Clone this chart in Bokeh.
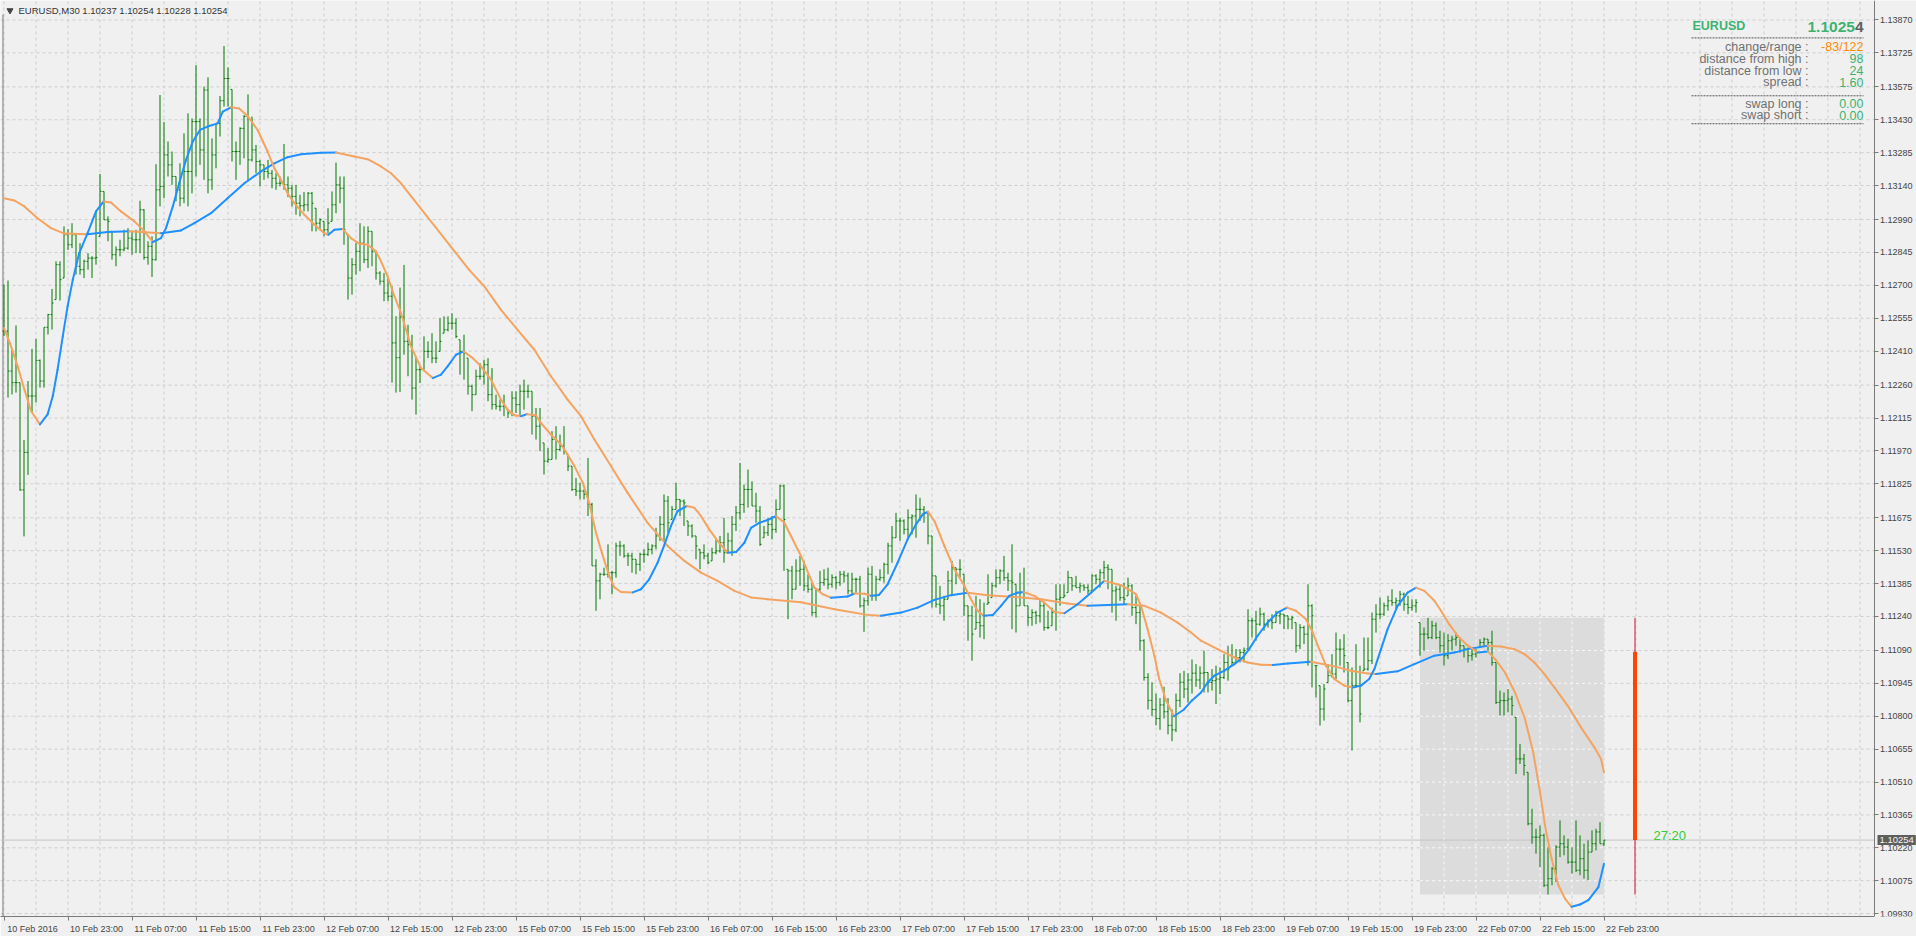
import numpy as np
from bokeh.plotting import figure
from bokeh.models import Range1d, FixedTicker, PrintfTickFormatter, Label, ColumnDataSource
from bokeh.core.properties import value
from bokeh.embed import file_html
from bokeh.resources import INLINE

# ---------------- data (prices in points, 1 point = 0.00001) ----------------
SYMBOL = "EURUSD"
TIMEFRAME = "M30"
LAST_O, LAST_H, LAST_L, LAST_C = 1.10237, 1.10254, 1.10228, 1.10254
PRICE = 1.10254
DAY_OPEN, DAY_HIGH, DAY_LOW = 1.11084, 1.11234, 1.10014
CHANGE_RANGE = "-83/122"
DIST_HIGH = "98"
DIST_LOW = "24"
SPREAD = "1.60"
SWAP_LONG = "0.00"
SWAP_SHORT = "0.00"
TIMER = "27:20"
DAY_START_BAR = 354

HIGH = [
 112703,112721,112417,112523,112271,112018,112278,112420,112464,112373,
 112515,112574,112684,112806,112806,112960,112948,112974,112923,112886,
 112813,112842,112828,113026,113191,113114,113004,112938,112872,112901,
 112945,112952,112938,112945,113073,113036,112894,112916,113234,113539,
 113419,113334,113290,113180,113238,113370,113458,113436,113671,113436,
 113576,113617,113348,113414,113535,113755,113661,113564,113334,113397,
 113451,113542,113444,113319,113253,113231,113253,113209,113194,113180,
 113323,113180,113143,113143,113099,113111,113111,113111,113040,112996,
 112982,113040,113114,113241,113180,113180,112923,112820,112886,112974,
 112960,112960,112938,112850,112762,112754,112732,112696,112564,112690,
 112790,112526,112482,112387,112343,112475,112453,112489,112453,112555,
 112563,112563,112577,112555,112460,112482,112379,112262,112328,112357,
 112372,112379,112335,112218,112196,112218,112152,112233,112233,112262,
 112284,112262,112233,112159,112159,112005,111983,112057,112079,112042,
 112079,111954,111903,111851,111829,111800,111939,111741,111492,111433,
 111455,111558,111441,111565,111573,111558,111521,111521,111492,111521,
 111536,111565,111558,111631,111683,111778,111771,111727,111829,111756,
 111756,111661,111646,111595,111536,111558,111521,111543,111580,111595,
 111675,111609,111683,111727,111917,111822,111888,111836,111785,111727,
 111639,111675,111683,111756,111822,111822,111448,111463,111492,111507,
 111485,111426,111389,111360,111441,111448,111455,111426,111419,111441,
 111441,111433,111433,111411,111419,111323,111455,111463,111419,111448,
 111477,111565,111639,111697,111675,111668,111712,111690,111778,111763,
 111727,111705,111595,111419,111375,111331,111441,111485,111455,111492,
 111426,111287,111287,111331,111316,111301,111426,111389,111448,111448,
 111507,111433,111558,111382,111433,111455,111287,111272,111265,111316,
 111301,111265,111279,111382,111382,111382,111441,111411,111419,111389,
 111382,111382,111426,111426,111448,111485,111470,111448,111375,111382,
 111389,111411,111382,111331,111287,111140,110990,110950,110900,110880,
 110930,110880,110830,110900,110990,111000,110990,111050,111030,111020,
 111089,110993,111008,111023,111015,111074,111111,111118,111096,111096,
 111103,111272,111235,111265,111279,111257,111228,111250,111265,111265,
 111250,111243,111243,111213,111206,111199,111382,111294,111023,110935,
 110942,111030,111074,111169,111140,111162,111037,111015,111118,111023,
 111147,111147,111257,111294,111323,111301,111331,111360,111323,111353,
 111345,111331,111316,111316,111213,111191,111234,111221,111213,111177,
 111169,111162,111155,111169,111147,111111,111103,111103,111096,111140,
 111147,111140,111177,111037,110913,110905,110920,110890,110795,110678,
 110634,110553,110392,110304,110319,110282,110223,110135,110231,110341,
 110275,110260,110223,110341,110275,110238,110253,110297,110304,110333,
 110254]

LOW = [
 112476,112205,112219,112227,111794,111593,111864,112139,112183,112249,
 112249,112483,112505,112637,112633,112732,112857,112864,112747,112747,
 112732,112769,112732,112791,112916,112989,112894,112813,112784,112828,
 112850,112857,112835,112842,112842,112813,112791,112737,112809,113048,
 113084,113180,113143,113070,113048,113062,113048,113106,113180,113231,
 113165,113106,113121,113216,113356,113488,113488,113246,113165,113231,
 113260,113158,113246,113194,113136,113165,113172,113128,113121,113136,
 113121,113089,113048,113011,113004,113026,113026,112938,112938,112945,
 112916,112930,112982,113018,113062,112879,112637,112659,112747,112762,
 112798,112776,112784,112725,112703,112630,112630,112271,112227,112230,
 112394,112299,112196,112130,112269,112328,112379,112357,112357,112409,
 112489,112497,112504,112467,112306,112284,112218,112145,112218,112284,
 112262,112189,112152,112152,112145,112123,112115,112123,112137,112123,
 112152,112203,112042,112020,111969,111866,111917,111932,111932,111969,
 111954,111881,111793,111771,111756,111756,111683,111463,111265,111316,
 111419,111411,111338,111411,111507,111499,111463,111433,111426,111441,
 111477,111507,111514,111536,111573,111573,111609,111668,111712,111683,
 111639,111595,111587,111492,111448,111492,111470,111485,111514,111521,
 111477,111521,111507,111617,111668,111697,111720,111727,111653,111551,
 111587,111595,111580,111609,111712,111441,111228,111316,111360,111375,
 111353,111345,111243,111235,111353,111375,111360,111367,111360,111375,
 111389,111338,111338,111345,111279,111172,111287,111309,111309,111397,
 111389,111426,111477,111587,111573,111602,111587,111602,111587,111661,
 111653,111558,111279,111279,111250,111221,111316,111331,111382,111411,
 111243,111133,111045,111184,111147,111140,111294,111323,111367,111382,
 111397,111353,111184,111169,111287,111287,111199,111199,111206,111213,
 111177,111184,111199,111177,111287,111323,111345,111353,111367,111345,
 111353,111338,111353,111382,111367,111404,111360,111257,111221,111309,
 111294,111331,111243,111206,111089,110957,110830,110800,110760,110740,
 110790,110720,110690,110730,110840,110880,110860,110900,110930,110920,
 110905,110905,110913,110854,110898,110964,110957,111023,111037,111037,
 111037,111096,111147,111133,111199,111177,111191,111184,111213,111206,
 111184,111184,111184,111081,111096,111118,111023,110927,110883,110759,
 110781,110949,110971,110964,111023,110993,110861,110649,110927,110773,
 111001,111001,111030,111169,111228,111243,111265,111287,111272,111287,
 111265,111250,111265,111257,111067,111089,111140,111140,111140,111081,
 111023,111052,111089,111111,111081,111059,111037,111045,111059,111103,
 111111,111089,111023,110854,110803,110803,110817,110803,110546,110590,
 110539,110319,110238,110194,110135,110047,110014,110055,110069,110179,
 110187,110150,110106,110113,110099,110084,110077,110201,110209,110238,
 110228]

CLOSE = [
 112498,112322,112271,112271,111798,111963,112212,112212,112369,112278,
 112515,112571,112622,112791,112725,112923,112879,112923,112784,112769,
 112806,112820,112820,112823,113114,112989,112982,112835,112857,112857,
 112864,112908,112901,112901,113033,112823,112872,112813,113121,113136,
 113275,113231,113180,113121,113084,113202,113202,113422,113422,113297,
 113561,113165,113275,113414,113514,113612,113612,113290,113290,113392,
 113444,113253,113297,113246,113231,113202,113194,113172,113150,113150,
 113143,113128,113092,113062,113051,113055,113106,113062,112974,112989,
 112945,112974,113055,113143,113128,112945,112732,112791,112850,112886,
 112813,112938,112850,112754,112718,112666,112652,112446,112381,112560,
 112453,112438,112247,112328,112328,112409,112409,112379,112379,112453,
 112504,112533,112533,112475,112409,112401,112255,112218,112299,112299,
 112350,112218,112174,112167,112167,112167,112137,112203,112174,112233,
 112233,112233,112123,112079,112093,111925,111932,112020,111976,111991,
 111969,111903,111800,111793,111793,111778,111734,111463,111397,111426,
 111426,111433,111433,111551,111551,111507,111507,111492,111470,111514,
 111514,111536,111551,111595,111646,111749,111653,111712,111756,111749,
 111741,111639,111595,111551,111521,111507,111477,111521,111529,111565,
 111521,111573,111646,111697,111734,111800,111800,111727,111705,111558,
 111609,111646,111624,111712,111815,111668,111441,111360,111441,111448,
 111375,111360,111257,111360,111389,111404,111382,111411,111389,111426,
 111419,111353,111404,111404,111287,111309,111426,111331,111404,111411,
 111470,111551,111587,111661,111661,111624,111675,111683,111712,111712,
 111697,111595,111419,111294,111287,111316,111397,111455,111448,111448,
 111287,111243,111162,111213,111199,111243,111301,111375,111411,111441,
 111411,111397,111389,111287,111345,111287,111235,111257,111243,111287,
 111191,111191,111257,111316,111323,111331,111411,111375,111367,111375,
 111367,111353,111419,111404,111433,111455,111448,111353,111360,111323,
 111316,111375,111279,111257,111133,110971,110870,110830,110790,110850,
 110820,110760,110740,110870,110950,110920,110960,110990,110960,110990,
 110993,110949,110957,110964,110971,111037,111008,111037,111059,111081,
 111089,111221,111221,111206,111250,111206,111221,111213,111243,111250,
 111243,111228,111235,111111,111191,111162,111287,111243,111023,110832,
 110920,110979,110986,111096,111096,111067,110869,110935,110935,110810,
 111008,111045,111228,111250,111250,111287,111309,111301,111309,111338,
 111294,111279,111287,111301,111162,111162,111147,111199,111147,111111,
 111067,111133,111140,111147,111111,111096,111067,111074,111081,111125,
 111140,111125,111037,110861,110869,110869,110876,110847,110612,110612,
 110583,110326,110267,110267,110275,110055,110084,110128,110223,110238,
 110223,110157,110157,110121,110172,110121,110201,110238,110290,110238,
 110254]

# fast moving average: (bar index, price in points)
FAST_MA = [
 (0,112512),(1.75,112432),(3.4,112344),(5.1,112241),(6.75,112146),(9,112087),(10.9,112131),
 (12.2,112212),(13.4,112329),(14.7,112476),(15.9,112608),(17.2,112725),(18.8,112842),(20.9,112930),
 (23,113026),(24.9,113070),(26.75,113065),(29.25,113026),(32.6,112982),(35.1,112938),(37.2,112891),
 (39.25,112908),(40.5,112952),(42.2,113048),(43.8,113150),(45.5,113253),(47.2,113334),(49,113385),
 (50.9,113400),(53.4,113414),(54.7,113466),(56.75,113485),(58.8,113480),(60.9,113447),(63.4,113385),
 (65.9,113290),(67.6,113216),(69.25,113165),(70.9,113106),(72.6,113062),(75.1,113011),(77.6,112967),
 (80.1,112930),(81.1,112923),(82.6,112945),(84.7,112948),(86.75,112908),(88.8,112884),(90.9,112879),
 (93,112850),(94.25,112806),(95.9,112740),(97.6,112652),(99.25,112578),(101.75,112431),(104.25,112335),
 (107.2,112291),(109.25,112306),(110.9,112343),(113,112394),(114.9,112409),(117.2,112379),(119.25,112343),
 (121.75,112284),(124.25,112196),(125.9,112152),(127.6,112127),(129.25,112123),(130.75,112132),(133,112127),
 (134.25,112093),(136.75,112042),(139.25,111998),(140.9,111954),(142.6,111903),(144.7,111829),(146.3,111741),
 (148,111609),(149.7,111507),(151.3,111419),(152.6,111368),(154.25,111348),(157.2,111346),(159.25,111360),
 (161.3,111404),(163.4,111477),(165,111551),(166.75,111639),(168.4,111705),(170.75,111727),(172.6,111719),
 (174.25,111683),(176.3,111624),(178.4,111573),(180.9,111521),(183,111524),(185.1,111565),(186.75,111631),
 (188.8,111653),(190.9,111665),(193,111683),(195.1,111653),(196.75,111595),(198.4,111536),(199.25,111507),
 (202.6,111367),(204.7,111338),(206.75,111323),(210.9,111328),(212.6,111341),(215.1,111340),(216.75,111331),
 (218.75,111335),(220.9,111382),(223.4,111477),(225.9,111580),(228,111646),(229.7,111690),(231,111702),
 (232.6,111661),(235.1,111551),(237.6,111448),(240.1,111375),(241.75,111316),(243.4,111265),(244.9,111243),
 (247.2,111246),(249.25,111287),(251.3,111331),(253.4,111345),(254.9,111348),(257.6,111331),(260.1,111301),
 (262.6,111260),(265.1,111254),(268.4,111294),(271.75,111345),(275.1,111397),(279.25,111378),(281.75,111353),
 (283,111338),(284.25,111287),(285.9,111184),(287.6,111067),(288.8,110964),(290.5,110870),(292.5,110800),
 (295,110830),(297,110870),(299.25,110905),(300.9,110949),(302.6,110979),(305.1,111001),(307.6,111030),
 (309.7,111059),(311.3,111096),(313.4,111155),(315.9,111213),(318.4,111257),(320.75,111279),(323,111265),
 (325.5,111228),(327.2,111169),(328.8,111096),(330.5,111023),(332.6,110964),(335.1,110935),(337.2,110927),
 (339.25,110935),(341.3,110964),(342.6,111008),(344.25,111096),(345.9,111184),(348.4,111287),(350.9,111345),
 (353,111367),(355.1,111353),(357.6,111309),(359.25,111265),(361.3,111206),(363.4,111155),(365.5,111118),
 (368.4,111081),(371,111085),(372.8,111052),(375.25,110993),(377.75,110905),(380.25,110788),(382.3,110641),
 (384,110466),(385.25,110319),(386.9,110172),(388.6,110055),(390.25,109996),(391.9,109960),(394,109970),
 (396.1,109989),(398.6,110047),(400,110150)]

# slow moving average: (bar index, price in points)
SLOW_MA = [
 (0,113084),(2.6,113074),(5.1,113048),(8.4,112996),(11.75,112952),(15.1,112928),(20.9,112925),
 (25.9,112935),(31.3,112938),(39.25,112930),(44.25,112942),(47.6,112974),(51.75,113018),(55.9,113084),
 (60.1,113150),(64.25,113202),(67.6,113238),(70.9,113265),(74.25,113278),(79.25,113284),(83,113286),
 (87.6,113268),(90.9,113256),(94.25,113224),(96.75,113194),(99.25,113150),(116.3,112768),(120.1,112695),
 (124.25,112592),(128.4,112504),(132.6,112416),(136.75,112299),(140.9,112196),(144.25,112123),(147.6,112020),
 (151.75,111903),(155.9,111785),(160.9,111653),(165.9,111551),(170.1,111485),(174.25,111433),(178.4,111397),
 (182.6,111353),(186.75,111324),(190.9,111316),(199.25,111303),(207.6,111272),(215.9,111247),(219.25,111243),
 (224.25,111257),(228.4,111279),(232.6,111313),(236.75,111334),(240.9,111345),(245.9,111334),(252.6,111326),
 (259.25,111316),(265.9,111297),(270.9,111287),(280.9,111294),(285.1,111287),(289.25,111257),(293.4,111213),
 (296.75,111169),(299.25,111133),(303.4,111096),(307.6,111059),(310.9,111037),(314.25,111027),(317.2,111026),
 (321,111033),(326.75,111040),(332.6,111020),(336.75,111001),(340.9,110989),(343,110986),(348.4,110998),
 (352.6,111030),(357.6,111067),(362.6,111081),(365.9,111096),(370.9,111111),(374.25,111108),(377.6,111096),
 (380.1,111074),(382.6,111037),(385.1,110986),(387.6,110927),(390.9,110847),(394.25,110751),(397.6,110663),
 (399.25,110612),(400,110553)]

Y_TICKS = [1.13870,1.13725,1.13575,1.13430,1.13285,1.13140,1.12990,1.12845,1.12700,1.12555,
           1.12410,1.12260,1.12115,1.11970,1.11825,1.11675,1.11530,1.11385,1.11240,1.11090,
           1.10945,1.10800,1.10655,1.10510,1.10365,1.10220,1.10075,1.09930]
TIME_LABELS = ["10 Feb 2016","10 Feb 23:00","11 Feb 07:00","11 Feb 15:00","11 Feb 23:00",
               "12 Feb 07:00","12 Feb 15:00","12 Feb 23:00","15 Feb 07:00","15 Feb 15:00",
               "15 Feb 23:00","16 Feb 07:00","16 Feb 15:00","16 Feb 23:00","17 Feb 07:00",
               "17 Feb 15:00","17 Feb 23:00","18 Feb 07:00","18 Feb 15:00","18 Feb 23:00",
               "19 Feb 07:00","19 Feb 15:00","19 Feb 23:00","22 Feb 07:00","22 Feb 15:00",
               "22 Feb 23:00"]
BARS_PER_LABEL = 16
BARS_PER_VGRID = 8

# ---------------- styling / geometry ----------------
BG = "#f0f0f0"
BAR_COLOR = "#007800"
UP_COLOR = "#1e90ff"
DOWN_COLOR = "#f4a460"
GREEN = "#3cb371"
GREY_TXT = "#707070"
GRID = "#cdcdcd"
AXIS = "#7a7a7a"
FONT = "Liberation Sans"

W, H = 1916, 936
FRAME_L, FRAME_T = 0, 0
FRAME_R, FRAME_B = 1916, 918
AXIS_PX = 1873.5                       # page x of the price axis line
FRAME_W, FRAME_H = FRAME_R - FRAME_L, FRAME_B - FRAME_T
PX = 0.000043994                      # price per pixel
X0 = (FRAME_L - 3.5) / 4.0            # 4 px per bar
X1 = X0 + FRAME_W / 4.0
Y1 = Y_TICKS[0] + (19.5 - FRAME_T) * PX
Y0 = Y1 - FRAME_H * PX

def dx(px):
    return X0 + (px - FRAME_L) / 4.0

def dy(py):
    return Y1 - (py - FRAME_T) * PX

n = min(len(HIGH), len(LOW), len(CLOSE))
PT = 1e-5
hi = np.array(HIGH[:n]) * PT
lo = np.array(LOW[:n]) * PT
cl = np.array(CLOSE[:n]) * PT
idx = np.arange(n, dtype=float)
# open of each bar = previous close (kept within the bar's range)
op = np.empty(n)
op[0] = cl[0]
op[1:] = np.clip(cl[:-1], lo[1:], hi[1:])
op[-1] = LAST_O

p = figure(width=W, height=H, x_range=Range1d(X0, X1), y_range=Range1d(Y0, Y1),
           y_axis_location="right", toolbar_location=None, output_backend="svg",
           min_border_left=0, min_border_top=0, min_border_right=0,
           min_border_bottom=H - FRAME_B, title=None)
p.background_fill_color = BG
p.border_fill_color = BG
p.outline_line_color = None
p.xgrid.visible = False
p.ygrid.visible = False

# price axis drawn at a fixed location inside the frame
AX = dx(AXIS_PX)
p.yaxis.fixed_location = AX
p.yaxis.ticker = FixedTicker(ticks=Y_TICKS)
p.yaxis.formatter = PrintfTickFormatter(format="%.5f")
p.yaxis.major_label_text_font = FONT
p.yaxis.major_label_text_font_size = "9px"
p.yaxis.major_label_text_color = "#444444"
p.yaxis.axis_line_color = AXIS
p.yaxis.major_tick_line_color = AXIS
p.yaxis.major_tick_out = 4
p.yaxis.major_tick_in = 0
p.yaxis.minor_tick_line_color = None
p.yaxis.major_label_standoff = 2

label_bars = [BARS_PER_LABEL * k for k in range(len(TIME_LABELS))]
centers = [b + 7.125 for b in label_bars]
p.xaxis.ticker = FixedTicker(ticks=centers, minor_ticks=label_bars)
p.xaxis.major_label_overrides = {c: t for c, t in zip(centers, TIME_LABELS)}
p.xaxis.bounds = (X0, AX)
p.xaxis.major_label_text_font = FONT
p.xaxis.major_label_text_font_size = "9px"
p.xaxis.major_label_text_color = "#444444"
p.xaxis.axis_line_color = AXIS
p.xaxis.major_tick_out = 0
p.xaxis.major_tick_in = 0
p.xaxis.minor_tick_out = 4
p.xaxis.minor_tick_in = 0
p.xaxis.minor_tick_line_color = AXIS
p.xaxis.major_label_standoff = 3

# grid (stops at the price axis)
vg = list(range(0, int(AX) + 1, BARS_PER_VGRID))
p.segment(x0=vg, x1=vg, y0=[Y0] * len(vg), y1=[Y1] * len(vg),
          line_color=GRID, line_dash="3 3", line_width=1)
p.segment(x0=[X0] * len(Y_TICKS), x1=[AX] * len(Y_TICKS), y0=Y_TICKS, y1=Y_TICKS,
          line_color=GRID, line_dash="3 3", line_width=1)
# left border
p.segment(x0=[dx(2.5)], x1=[dx(2.5)], y0=[Y0], y1=[dy(14)], line_color=AXIS, line_width=1)

# day range box
p.quad(left=[DAY_START_BAR], right=[idx[-1]], top=[DAY_HIGH], bottom=[DAY_LOW],
       fill_color="#dcdcdc", line_color=None)
vx = [b for b in vg if DAY_START_BAR < b < idx[-1]]
p.segment(x0=vx, x1=vx, y0=[DAY_LOW] * len(vx), y1=[DAY_HIGH] * len(vx),
          line_color="#f8f8f8", line_dash="3 3", line_width=1)
hy = [t for t in Y_TICKS if DAY_LOW < t < DAY_HIGH]
p.segment(x0=[DAY_START_BAR] * len(hy), x1=[idx[-1]] * len(hy), y0=hy, y1=hy,
          line_color="#f8f8f8", line_dash="3 3", line_width=1)

# current price line
p.segment(x0=[X0], x1=[AX], y0=[PRICE], y1=[PRICE], line_color="#c4c4c4", line_width=1)

# OHLC bars
p.segment(x0=idx, x1=idx, y0=lo, y1=hi, line_color=BAR_COLOR, line_width=1)
p.segment(x0=idx - 0.375, x1=idx, y0=op, y1=op, line_color=BAR_COLOR, line_width=1)
p.segment(x0=idx, x1=idx + 0.375, y0=cl, y1=cl, line_color=BAR_COLOR, line_width=1)

# moving averages coloured by slope
def ma_segments(pairs):
    xs = np.array([a for a, b in pairs], dtype=float)
    ys = np.array([b for a, b in pairs], dtype=float) * PT
    cols = np.where(ys[1:] > ys[:-1], UP_COLOR, DOWN_COLOR)
    return dict(x0=xs[:-1], x1=xs[1:], y0=ys[:-1], y1=ys[1:], c=list(cols))

for pairs in (SLOW_MA, FAST_MA):
    src = ColumnDataSource(ma_segments(pairs))
    p.segment(x0="x0", y0="y0", x1="x1", y1="y1", line_color="c", line_width=2,
              line_cap="round", source=src)

# daily range bar + timer
bx = dx(1634.5)
p.segment(x0=[bx], x1=[bx], y0=[DAY_LOW], y1=[DAY_HIGH], line_color="#c8102e", line_width=1)
p.segment(x0=[bx], x1=[bx], y0=[PRICE], y1=[DAY_OPEN], line_color="#ff4500", line_width=4)
p.text(x=[dx(1653)], y=[PRICE + 5 * PX], text=[TIMER], text_font=value(FONT),
       text_font_size="13px", text_color="#32cd32", text_baseline="middle", text_align="left")

# info panel
p.text(x=[dx(1692)], y=[dy(26)], text=[SYMBOL], text_font=value(FONT), text_font_size="12.5px",
       text_font_style="bold", text_color=GREEN, text_baseline="middle", text_align="left")
price_str = "%.5f" % PRICE
p.text(x=[dx(1863 - 8.6)], y=[dy(27)], text=[price_str[:-1]], text_font=value(FONT),
       text_font_size="15.5px", text_font_style="bold", text_color=GREEN,
       text_baseline="middle", text_align="right")
p.text(x=[dx(1863)], y=[dy(27)], text=[price_str[-1]], text_font=value(FONT),
       text_font_size="15.5px", text_font_style="bold", text_color="#606060",
       text_baseline="middle", text_align="right")
for yy in (37.5, 95.5, 123.5):
    p.segment(x0=[dx(1691)], x1=[dx(1863)], y0=[dy(yy)], y1=[dy(yy)],
              line_color="#555555", line_dash="2 1", line_width=1)
rows = [("change/range :", CHANGE_RANGE, "#ff8c00", 46.7),
        ("distance from high :", DIST_HIGH, GREEN, 58.5),
        ("distance from low :", DIST_LOW, GREEN, 70.3),
        ("spread :", SPREAD, GREEN, 82.1),
        ("swap long :", SWAP_LONG, GREEN, 103.5),
        ("swap short :", SWAP_SHORT, GREEN, 115.2)]
lab_src = ColumnDataSource(dict(x=[dx(1808)] * len(rows), y=[dy(r[3]) for r in rows],
                                t=[r[0] for r in rows]))
p.text(x="x", y="y", text="t", source=lab_src, text_font=value(FONT), text_font_size="12.5px",
       text_color=GREY_TXT, text_baseline="middle", text_align="right")
val_src = ColumnDataSource(dict(x=[dx(1863)] * len(rows), y=[dy(r[3]) for r in rows],
                                t=[r[1] for r in rows], c=[r[2] for r in rows]))
p.text(x="x", y="y", text="t", source=val_src, text_font=value(FONT), text_font_size="12.5px",
       text_color="c", text_baseline="middle", text_align="right")

# title line
p.scatter(x=[dx(9.5)], y=[dy(10)], marker="inverted_triangle", size=6, color="#444444")
title = "%s,%s  %.5f %.5f %.5f %.5f" % (SYMBOL, TIMEFRAME, LAST_O, LAST_H, LAST_L, LAST_C)
p.add_layout(Label(x=dx(18), y=dy(10.5), text=title, text_font=FONT, text_font_size="9.5px",
                   text_color="#333333", text_baseline="middle", text_align="left"))

# current price tag on the axis
p.add_layout(Label(x=dx(1877), y=PRICE, text=price_str, text_font=FONT,
                   text_font_size="9.5px", text_color="#f4f4f4", text_baseline="middle",
                   text_align="left", background_fill_color="#5e5e5e", padding=2))

open("out.html", "w").write(file_html(p, INLINE))
